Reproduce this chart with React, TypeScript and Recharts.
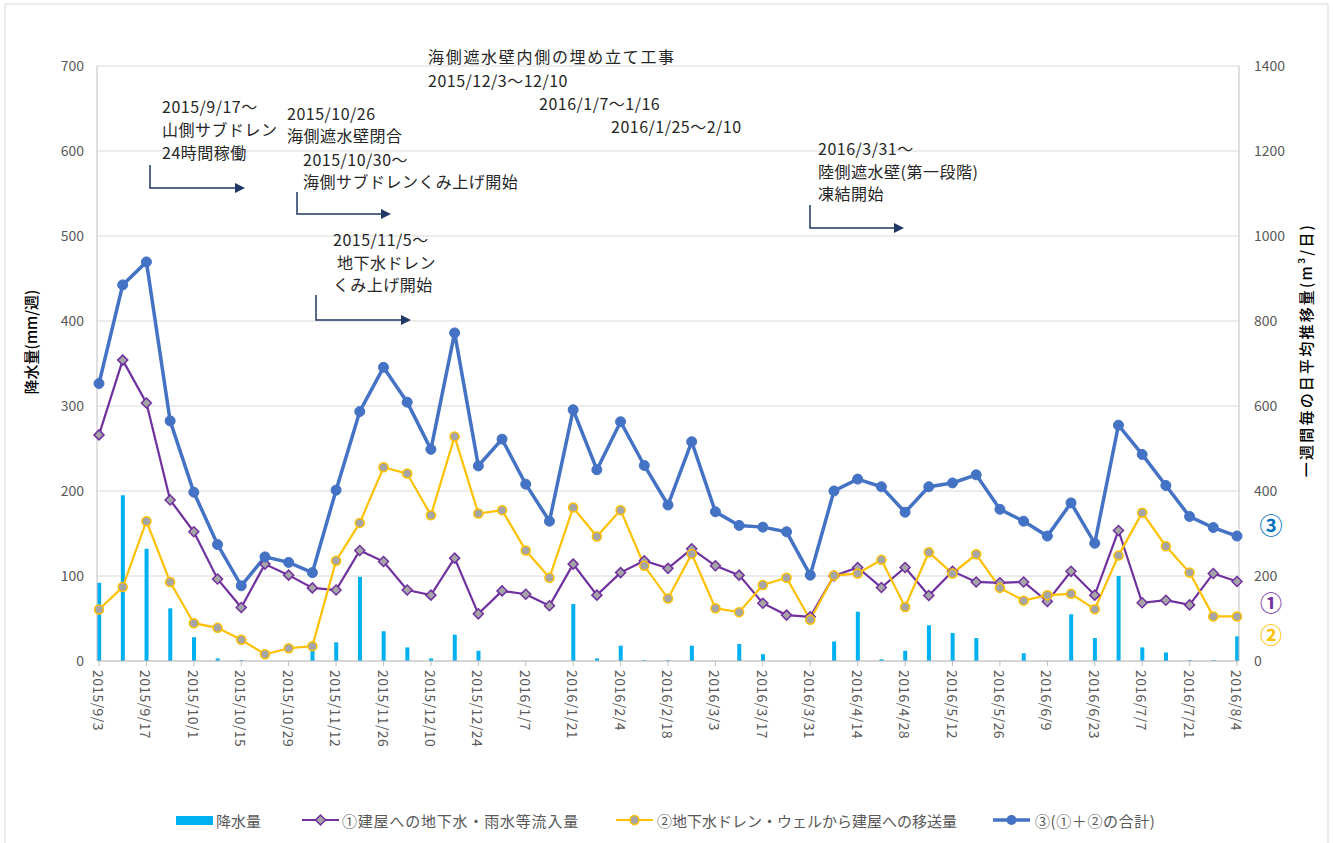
import React from "react";
import { Bar, CartesianGrid, ComposedChart, Line, XAxis, YAxis } from "recharts";

// 週ごとの日付 (2015/9/3 ～ 2016/8/4)
const dates = [
  "2015/9/3", "2015/9/10", "2015/9/17", "2015/9/24", "2015/10/1", "2015/10/8", "2015/10/15",
  "2015/10/22", "2015/10/29", "2015/11/5", "2015/11/12", "2015/11/19", "2015/11/26", "2015/12/3",
  "2015/12/10", "2015/12/17", "2015/12/24", "2015/12/31", "2016/1/7", "2016/1/14", "2016/1/21",
  "2016/1/28", "2016/2/4", "2016/2/11", "2016/2/18", "2016/2/25", "2016/3/3", "2016/3/10",
  "2016/3/17", "2016/3/24", "2016/3/31", "2016/4/7", "2016/4/14", "2016/4/21", "2016/4/28",
  "2016/5/5", "2016/5/12", "2016/5/19", "2016/5/26", "2016/6/2", "2016/6/9", "2016/6/16",
  "2016/6/23", "2016/6/30", "2016/7/7", "2016/7/14", "2016/7/21", "2016/7/28", "2016/8/4",
]

// 降水量 (mm/週)
const rainfall = [
  92, 195, 132, 62, 28, 3, 1, 0, 0, 17, 22, 99, 35, 16, 3, 31, 12, 0, 0, 0,
  67, 3, 18, 1, 1, 18, 0, 20, 8, 0, 0, 23, 58, 2, 12, 42, 33, 27, 0, 9,
  0, 55, 27, 100, 16, 10, 1, 1, 29,
]

// ① 建屋への地下水・雨水等流入量 (m3/日)
const inflow = [
  532, 708, 607, 379, 304, 193, 126, 228, 202, 172, 167, 260, 234, 167, 155, 242, 111, 165, 157, 130,
  228, 155, 208, 236, 218, 264, 224, 202, 136, 108, 104, 200, 220, 173, 220, 154, 211, 186, 184, 186,
  140, 211, 155, 307, 137, 143, 132, 206, 187,
]

// ② 地下水ドレン・ウェルから建屋への移送量 (m3/日)
const transfer = [
  121, 174, 329, 186, 89, 78, 50, 16, 30, 35, 236, 325, 456, 441, 343, 528, 347, 355, 260, 196,
  361, 293, 355, 224, 147, 252, 124, 115, 179, 196, 97, 201, 206, 238, 127, 256, 206, 251, 172, 142,
  155, 158, 122, 248, 349, 270, 208, 105, 105,
]

// ③ (①＋②の合計)
const total = [
  653, 885, 939, 565, 397, 274, 177, 245, 232, 208, 402, 587, 691, 609, 498, 772, 459, 522, 416, 329,
  591, 450, 563, 460, 367, 516, 351, 319, 315, 304, 202, 400, 428, 410, 350, 410, 419, 438, 357, 329,
  294, 372, 277, 555, 486, 413, 340, 314, 294,
]

const leftTicks = [0, 100, 200, 300, 400, 500, 600, 700]
const rightTicks = [0, 200, 400, 600, 800, 1000, 1200, 1400]

const chartData = dates.map((d, i) => ({
  i,
  date: d,
  rain: rainfall[i],
  inflow: inflow[i],
  transfer: transfer[i],
  total: total[i],
}))

const dateTicks = dates.map((_, i) => i).filter((i) => i % 2 === 0)

const FONT = "'Noto Sans CJK JP', 'Noto Sans', sans-serif"
const GRAY = "#595959"
const AXIS = "#BFBFBF"

const DateTick = (props: any) => {
  const { x, y, payload } = props
  return (
    <text
      transform={`translate(${x},${y + 2}) rotate(90)`}
      textAnchor="start"
      dominantBaseline="central"
      fontSize={14}
      letterSpacing={0.4}
      fill={GRAY}
      fontFamily={FONT}
    >
      {dates[payload.value]}
    </text>
  )
}

const diamondDot = (props: any) => {
  const { cx, cy, index } = props
  if (cx == null || cy == null) return <g key={index} />
  const r = 5
  return (
    <polygon
      key={index}
      points={`${cx},${cy - r} ${cx + r},${cy} ${cx},${cy + r} ${cx - r},${cy}`}
      fill="#A5A5A5"
      stroke="#7030A0"
      strokeWidth={1.5}
    />
  )
}

const Arrow = ({ x, y1, y2, x2 }: { x: number; y1: number; y2: number; x2: number }) => (
  <g>
    <path d={`M${x} ${y1} V${y2} H${x2 - 9}`} fill="none" stroke="#1F3864" strokeWidth={1.5} />
    <polygon points={`${x2 - 10},${y2 - 5} ${x2},${y2} ${x2 - 10},${y2 + 5}`} fill="#1F3864" />
  </g>
)

const notes = [
  { x: 428, y: 56, t: "海側遮水壁内側の埋め立て工事", ls: 1.7 },
  { x: 428, y: 80, t: "2015/12/3～12/10" },
  { x: 539, y: 103, t: "2016/1/7～1/16" },
  { x: 611, y: 126, t: "2016/1/25～2/10" },
  { x: 162, y: 106, t: "2015/9/17～" },
  { x: 162, y: 129, t: "山側サブドレン" },
  { x: 162, y: 152, t: "24時間稼働" },
  { x: 287, y: 113, t: "2015/10/26" },
  { x: 287, y: 135, t: "海側遮水壁閉合" },
  { x: 303, y: 159, t: "2015/10/30～" },
  { x: 303, y: 181, t: "海側サブドレンくみ上げ開始" },
  { x: 333, y: 239, t: "2015/11/5～" },
  { x: 337, y: 262, t: "地下水ドレン" },
  { x: 333, y: 284, t: "くみ上げ開始" },
  { x: 818, y: 148, t: "2016/3/31～" },
  { x: 818, y: 171, t: "陸側遮水壁(第一段階)" },
  { x: 818, y: 193, t: "凍結開始" },
]

export default function App() {
  return (
    <div style={{ position: "absolute", left: 0, top: 0, width: 1333, height: 843, background: "#fff", fontFamily: FONT }}>
      <ComposedChart
        width={1333}
        height={843}
        data={chartData}
        margin={{ top: 66, right: 34, bottom: 102, left: 37 }}
      >
        <CartesianGrid yAxisId="left" vertical={false} stroke="#D9D9D9" />
        <XAxis
          dataKey="i"
          type="number"
          domain={[0, 48]}
          ticks={dateTicks}
          interval={0}
          tick={<DateTick />}
          tickSize={5}
          tickLine={{ stroke: AXIS }}
          axisLine={{ stroke: AXIS }}
          height={80}
          padding={{ left: 2, right: 2 }}
        />
        <YAxis
          yAxisId="left"
          domain={[0, 700]}
          ticks={leftTicks}
          interval={0}
          width={60}
          tickSize={0}
          tickMargin={13}
          tickLine={false}
          axisLine={{ stroke: AXIS }}
          tick={{ fill: GRAY, fontSize: 14, fontFamily: FONT }}
        />
        <YAxis
          yAxisId="right"
          orientation="right"
          domain={[0, 1400]}
          ticks={rightTicks}
          interval={0}
          width={60}
          tickSize={0}
          tickMargin={15}
          tickLine={false}
          axisLine={{ stroke: AXIS }}
          tick={{ fill: GRAY, fontSize: 14, fontFamily: FONT }}
        />
        <Bar yAxisId="left" dataKey="rain" fill="#00B0F0" barSize={4} isAnimationActive={false} />
        <Line
          yAxisId="right"
          dataKey="inflow"
          stroke="#7030A0"
          strokeWidth={2.2}
          dot={diamondDot}
          activeDot={false}
          isAnimationActive={false}
        />
        <Line
          yAxisId="right"
          dataKey="transfer"
          stroke="#FFC000"
          strokeWidth={2.2}
          dot={{ r: 4.5, fill: "#A5A5A5", stroke: "#FFC000", strokeWidth: 1.5 }}
          activeDot={false}
          isAnimationActive={false}
        />
        <Line
          yAxisId="right"
          dataKey="total"
          stroke="#4472C4"
          strokeWidth={3.5}
          dot={{ r: 5, fill: "#4472C4", stroke: "#4472C4", strokeWidth: 1 }}
          activeDot={false}
          isAnimationActive={false}
        />
      </ComposedChart>

      <svg
        width={1333}
        height={843}
        style={{ position: "absolute", left: 0, top: 0, pointerEvents: "none" }}
        fontFamily={FONT}
      >
        <rect x={5} y={4} width={1323} height={860} fill="none" stroke="#D9D9D9" />

        {/* axis titles */}
        <text transform="translate(30,342) rotate(-90)" textAnchor="middle" dominantBaseline="central" fontSize={15} fontWeight={500} fill="#000">
          降水量(mm/週)
        </text>
        <text transform="translate(1305,350) rotate(-90)" textAnchor="middle" dominantBaseline="central" fontSize={15} fontWeight={500} letterSpacing={2.2} fill="#000">
          一週間毎の日平均推移量(m³/日)
        </text>

        {/* annotations */}
        {notes.map((n, k) => (
          <text key={k} x={n.x} y={n.y} dominantBaseline="central" fontSize={16} letterSpacing={n.ls || 0.5} fill="#262626">
            {n.t}
          </text>
        ))}
        <Arrow x={150} y1={165} y2={188} x2={245} />
        <Arrow x={297} y1={192} y2={214} x2={391} />
        <Arrow x={316} y1={295} y2={320} x2={411} />
        <Arrow x={810} y1={205} y2={228} x2={904} />

        {/* series markers on right */}
        <text x={1271} y={524} textAnchor="middle" dominantBaseline="central" fontSize={23} fontWeight={700} fill="#0070C0">③</text>
        <text x={1271} y={601} textAnchor="middle" dominantBaseline="central" fontSize={22} fontWeight={700} fill="#7030A0">①</text>
        <text x={1271} y={633} textAnchor="middle" dominantBaseline="central" fontSize={22} fontWeight={700} fill="#FFC000">②</text>

        {/* legend */}
        <rect x={176} y={816} width={37} height={9} fill="#00B0F0" />
        <text x={216} y={820} dominantBaseline="central" fontSize={15} fill={GRAY}>降水量</text>

        <line x1={302} y1={820} x2={339} y2={820} stroke="#7030A0" strokeWidth={2.2} />
        <polygon points="320.5,815 325.5,820 320.5,825 315.5,820" fill="#A5A5A5" stroke="#7030A0" strokeWidth={1.5} />
        <text x={342} y={820} dominantBaseline="central" fontSize={15} letterSpacing={0.8} fill={GRAY}>①建屋への地下水・雨水等流入量</text>

        <line x1={616} y1={820} x2={653} y2={820} stroke="#FFC000" strokeWidth={2.2} />
        <circle cx={634.5} cy={820} r={4.5} fill="#A5A5A5" stroke="#FFC000" strokeWidth={1.5} />
        <text x={657} y={820} dominantBaseline="central" fontSize={15} fill={GRAY}>②地下水ドレン・ウェルから建屋への移送量</text>

        <line x1={993} y1={820} x2={1030} y2={820} stroke="#4472C4" strokeWidth={3.5} />
        <circle cx={1011.5} cy={820} r={5} fill="#4472C4" />
        <text x={1035} y={820} dominantBaseline="central" fontSize={15} letterSpacing={0.6} fill={GRAY}>③(①＋②の合計)</text>
      </svg>
    </div>
  )
}
